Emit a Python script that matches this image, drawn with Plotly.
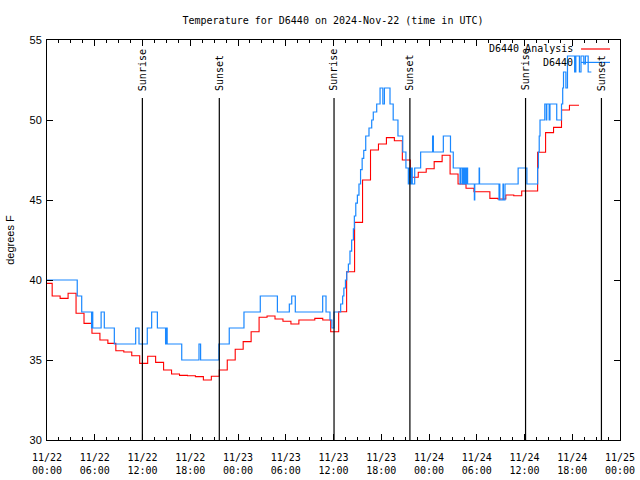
import pandas as pd
import plotly.graph_objects as go

START = pd.Timestamp("2024-11-22 00:00")
END = pd.Timestamp("2024-11-25 00:00")

# ---- D6440 Analysis (hourly, degrees F) ----
analysis_first_time = "2024-11-21 23:39"
analysis_values = [
    39.79, 39.0, 38.85, 39.17, 37.92, 37.29, 36.67, 36.25, 36.04, 35.58,
    35.5, 35.27, 34.79, 35.23, 34.85, 34.375, 34.125, 34.04, 34.02, 33.96,
    33.75, 33.98, 34.375, 35.0, 35.67, 36.15, 36.77, 37.67, 37.75, 37.56,
    37.42, 37.25, 37.5, 37.5, 37.6, 37.5, 36.77, 38.02, 40.52, 43.6,
    46.25, 48.125, 48.5, 48.9, 48.7, 47.5, 46.42, 46.73, 46.95, 47.4,
    47.8, 46.625, 46.0, 45.73, 45.52, 45.52, 45.1, 45.06, 45.31, 45.27,
    45.56, 45.56, 47.98, 49.21, 49.54, 50.625, 50.92,
]
analysis_last_end = "2024-11-24 18:51"

# ---- D6440 observations (hours after 11/22 00:00 UTC, degrees F) ----
obs_hours = [
    0.0, 3.8, 4.36, 5.6, 5.65, 5.75, 6.8, 7.2, 8.46, 11.14, 11.56, 12.6, 13.15,
    13.87, 14.9, 15.0, 15.1, 16.93, 19.1, 19.3, 21.6, 22.9, 24.75, 26.8, 28.95,
    30.45, 30.75, 31.2, 34.64, 35.06, 35.56, 35.8, 36.06, 36.9, 37.15, 37.3,
    37.5, 37.66, 37.87, 38.07, 38.28, 38.5, 38.62, 38.8, 39.0, 39.2, 39.4,
    39.6, 39.8, 40.05, 40.46, 40.8, 41.0, 41.43, 41.85, 42.2, 42.4, 43.1,
    43.5, 44.1, 44.7, 45.1, 45.4, 45.5, 45.7, 45.8, 45.9, 46.2, 46.95, 48.45,
    48.55, 49.8, 50.7, 51.05, 51.9, 51.95, 52.15, 52.2, 52.35, 52.4, 52.5,
    52.55, 52.7, 52.75, 52.85, 53.7, 53.75, 54.3, 54.35, 56.8, 56.85, 56.9,
    57.3, 57.35, 57.55, 59.2, 60.3, 61.65, 61.75, 61.85, 61.95, 62.55, 62.75,
    62.8, 63.1, 63.2, 64.05, 64.65, 64.8, 64.9, 65.2, 65.4, 66.3, 66.45,
    66.9, 67.1, 67.45, 67.65, 68.0, 68.4,
]
obs_temps = [
    40, 39, 38, 37, 38, 37, 38, 37, 36, 37, 36, 37, 38,
    37, 36, 37, 36, 35, 36, 35, 36, 37, 38, 39, 38,
    38.5, 39, 38, 39, 38, 37.5, 37, 38, 38.5, 39, 39.5,
    40, 40.5, 41, 41.8, 42.5, 43.2, 44, 44.8, 45.3, 46, 46.9,
    47.6, 48.1, 49, 49.5, 50, 50.5, 51, 52, 51, 52, 51,
    50, 49, 48, 47, 46, 47, 46, 47, 46, 47, 48, 49,
    48, 49, 48, 47, 46, 47, 46, 47, 46, 47, 46,
    47, 46, 47, 46, 45, 46, 47, 46, 45, 46, 45,
    46, 45, 46, 47, 46, 47, 48, 49, 50, 51, 50,
    51, 50, 51, 50, 51, 52, 53, 52, 54, 53, 54,
    53, 54, 53.5, 54, 53, 53,
]

sun_labels = ["Sunrise", "Sunset", "Sunrise", "Sunset", "Sunrise", "Sunset"]
sun_times = ["2024-11-22 11:59", "2024-11-22 21:39", "2024-11-23 12:04",
             "2024-11-23 21:36", "2024-11-24 12:08", "2024-11-24 21:40"]

RED = "#ff0000"
BLUE = "#1a88ff"
MONO = "DejaVu Sans Mono"
SANS = "Liberation Sans"

an_x = list(pd.date_range(analysis_first_time, periods=len(analysis_values), freq="h"))
an_x.append(pd.Timestamp(analysis_last_end))
an_y = analysis_values + [analysis_values[-1]]

obs_x = [START + pd.Timedelta(hours=h) for h in obs_hours]

fig = go.Figure()
fig.add_trace(go.Scatter(x=an_x, y=an_y, mode="lines", line=dict(color=RED, width=1.1, shape="hv"),
                         name="D6440 Analysis", showlegend=False))
fig.add_trace(go.Scatter(x=obs_x, y=obs_temps, mode="lines", line=dict(color=BLUE, width=1.2, shape="hv"),
                         name="D6440", showlegend=False))

for lab, t in zip(sun_labels, sun_times):
    fig.add_shape(type="line", x0=t, x1=t, xref="x", y0=0, y1=0.855, yref="y domain",
                  line=dict(color="black", width=1.2))
    fig.add_annotation(x=t, xref="x", y=0.868, yref="y domain", text=lab, textangle=-90,
                       showarrow=False, xanchor="center", yanchor="bottom",
                       font=dict(family=MONO, size=10, color="black"))

# gnuplot-style key (text left of sample line)
for i, (name, col) in enumerate([("D6440 Analysis", RED), ("D6440", BLUE)]):
    yy = 0.9775 - i * 0.0335
    fig.add_annotation(x=0.9215, xref="paper", y=yy, yref="paper", text=name, showarrow=False,
                       xanchor="right", yanchor="middle", font=dict(family=MONO, size=10, color="black"))
    fig.add_shape(type="line", xref="paper", yref="paper", x0=0.932, x1=0.9825, y0=yy, y1=yy,
                  line=dict(color=col, width=1.2))

fig.update_layout(
    width=640, height=480,
    margin=dict(l=47, r=20, t=40, b=40, autoexpand=False),
    paper_bgcolor="white", plot_bgcolor="white",
    title=dict(text="Temperature for D6440 on 2024-Nov-22 (time in UTC)", x=333 / 640, xanchor="center",
               y=1 - 20 / 480, yanchor="middle", yref="container",
               font=dict(family=MONO, size=10, color="black")),
    showlegend=False,
)
fig.update_xaxes(range=[START, END], type="date", dtick=6 * 3600 * 1000, tick0=START,
                 tickformat="%m/%d<br>%H:%M", ticks="inside", ticklen=6, tickcolor="black",
                 showline=True, linecolor="black", linewidth=1, mirror="ticks", showgrid=False,
                 zeroline=False, automargin=False, ticklabelstandoff=8,
                 tickfont=dict(family=MONO, size=10, color="black"),
                 minor=dict(ticks="inside", ticklen=3, dtick=1.5 * 3600 * 1000, tickcolor="black"))
fig.update_yaxes(range=[30, 55], dtick=5, ticks="inside", ticklen=6, tickcolor="black",
                 showline=True, linecolor="black", linewidth=1, mirror="ticks", showgrid=False,
                 zeroline=False, automargin=False, ticklabelstandoff=2,
                 tickfont=dict(family=SANS, size=11, color="black"),
                 title=dict(text="degrees F", standoff=12, font=dict(family=SANS, size=11, color="black")))

fig.write_html("out.html", config={"displayModeBar": False},
               post_script="document.body.style.margin='0';")
